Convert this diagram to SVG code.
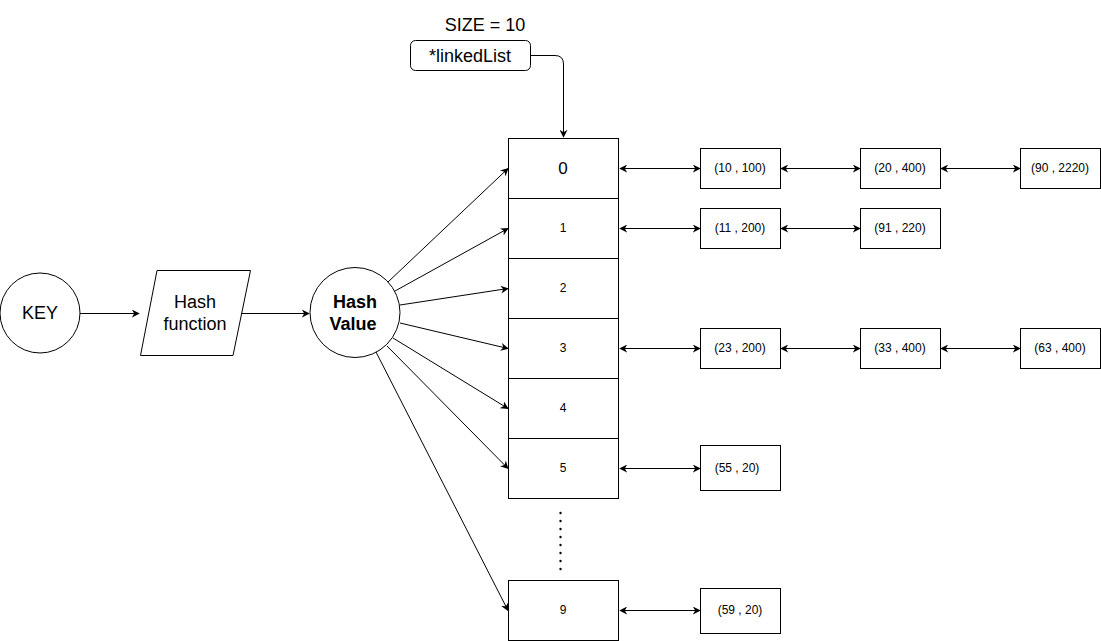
<svg xmlns="http://www.w3.org/2000/svg" width="1101" height="641" viewBox="0 0 1101 641">
<style>
.s{fill:#fff;stroke:#000;stroke-width:1}
.t{font-family:"Liberation Sans",Arial,sans-serif;fill:#000;text-anchor:middle;dominant-baseline:central}
.c{fill:none;stroke:#000;stroke-width:1}
</style>
<defs>
<marker id="a" viewBox="0 0 10 10" refX="9" refY="5" markerWidth="8" markerHeight="8" markerUnits="userSpaceOnUse" orient="auto-start-reverse">
<path d="M0,0 L10,5 L0,10 L3,5 Z" fill="#000"/>
</marker>
</defs>
<rect width="1101" height="641" fill="#fff"/>
<g id="size"><text class="t" x="485" y="25" font-size="18">SIZE = 10</text></g>
<g id="linkedList"><rect class="s" x="410.5" y="40.5" width="120" height="30" rx="5"/><text class="t" x="470" y="56" font-size="18">*linkedList</text></g>
<g id="key"><circle class="s" cx="40" cy="313" r="40"/><text class="t" x="40" y="313" font-size="18">KEY</text></g>
<g id="hashFunction"><polygon class="s" points="157,270.5 250.5,270.5 233,355.5 140.5,355.5"/><text class="t" x="195" y="302" font-size="18">Hash</text><text class="t" x="195" y="324" font-size="18">function</text></g>
<g id="hashValue"><circle class="s" cx="355" cy="312.5" r="45"/><text class="t" x="355" y="302" font-size="18" font-weight="bold">Hash</text><text class="t" x="353" y="324" font-size="18" font-weight="bold">Value</text></g>
<g id="cell0"><rect class="s" x="508.5" y="138.5" width="110" height="60"/><text class="t" x="563" y="168" font-size="17">0</text></g>
<g id="cell1"><rect class="s" x="508.5" y="198.5" width="110" height="60"/><text class="t" x="563" y="228" font-size="12">1</text></g>
<g id="cell2"><rect class="s" x="508.5" y="258.5" width="110" height="60"/><text class="t" x="563" y="288" font-size="12">2</text></g>
<g id="cell3"><rect class="s" x="508.5" y="318.5" width="110" height="60"/><text class="t" x="563" y="348" font-size="12">3</text></g>
<g id="cell4"><rect class="s" x="508.5" y="378.5" width="110" height="60"/><text class="t" x="563" y="408" font-size="12">4</text></g>
<g id="cell5"><rect class="s" x="508.5" y="438.5" width="110" height="60"/><text class="t" x="563" y="468" font-size="12">5</text></g>
<g id="dots" fill="#000"><circle cx="560.5" cy="513" r="1.2"/><circle cx="560.5" cy="521" r="1.2"/><circle cx="560.5" cy="529" r="1.2"/><circle cx="560.5" cy="537" r="1.2"/><circle cx="560.5" cy="545" r="1.2"/><circle cx="560.5" cy="553" r="1.2"/><circle cx="560.5" cy="561" r="1.2"/><circle cx="560.5" cy="569" r="1.2"/></g>
<g id="cell9"><rect class="s" x="508.5" y="580.5" width="110" height="60"/><text class="t" x="563" y="610" font-size="12">9</text></g>
<g id="n10_100"><rect class="s" x="700.5" y="148.5" width="80" height="40"/><text class="t" x="740" y="168" font-size="12">(10 , 100)</text></g>
<g id="n20_400"><rect class="s" x="860.5" y="148.5" width="80" height="40"/><text class="t" x="900" y="168" font-size="12">(20 , 400)</text></g>
<g id="n90_2220"><rect class="s" x="1020.5" y="148.5" width="80" height="40"/><text class="t" x="1060" y="168" font-size="12">(90 , 2220)</text></g>
<g id="n11_200"><rect class="s" x="700.5" y="208.5" width="80" height="40"/><text class="t" x="740" y="228" font-size="12">(11 , 200)</text></g>
<g id="n91_220"><rect class="s" x="860.5" y="208.5" width="80" height="40"/><text class="t" x="900" y="228" font-size="12">(91 , 220)</text></g>
<g id="n23_200"><rect class="s" x="700.5" y="328.5" width="80" height="40"/><text class="t" x="740" y="348" font-size="12">(23 , 200)</text></g>
<g id="n33_400"><rect class="s" x="860.5" y="328.5" width="80" height="40"/><text class="t" x="900" y="348" font-size="12">(33 , 400)</text></g>
<g id="n63_400"><rect class="s" x="1020.5" y="328.5" width="80" height="40"/><text class="t" x="1060" y="348" font-size="12">(63 , 400)</text></g>
<g id="n55_20"><rect class="s" x="700.5" y="445.5" width="80" height="45"/><text class="t" x="737" y="468" font-size="12">(55 , 20)</text></g>
<g id="n59_20"><rect class="s" x="700.5" y="588.5" width="80" height="45"/><text class="t" x="740" y="610" font-size="12">(59 , 20)</text></g>
<g id="connectors" class="c">
<path class="c" d="M530.5,55.5 H555 Q563.5,55.5 563.5,64 V137" marker-end="url(#a)"/>
<path class="c" d="M80,313.5 H139" marker-end="url(#a)"/>
<path class="c" d="M241,313.5 H309" marker-end="url(#a)"/>
<path class="c" d="M388,282 L508,168.5" marker-end="url(#a)"/>
<path class="c" d="M395,291 L508,228.5" marker-end="url(#a)"/>
<path class="c" d="M400,305 L508,288.5" marker-end="url(#a)"/>
<path class="c" d="M400,323 L508,348.5" marker-end="url(#a)"/>
<path class="c" d="M393,338 L508,408.5" marker-end="url(#a)"/>
<path class="c" d="M387,346 L508,468.5" marker-end="url(#a)"/>
<path class="c" d="M376,352 L508,610.5" marker-end="url(#a)"/>
<path class="c" d="M620,168.5 H700" marker-start="url(#a)" marker-end="url(#a)"/>
<path class="c" d="M781,168.5 H860" marker-start="url(#a)" marker-end="url(#a)"/>
<path class="c" d="M941,168.5 H1020" marker-start="url(#a)" marker-end="url(#a)"/>
<path class="c" d="M620,228.5 H700" marker-start="url(#a)" marker-end="url(#a)"/>
<path class="c" d="M781,228.5 H860" marker-start="url(#a)" marker-end="url(#a)"/>
<path class="c" d="M620,348.5 H700" marker-start="url(#a)" marker-end="url(#a)"/>
<path class="c" d="M781,348.5 H860" marker-start="url(#a)" marker-end="url(#a)"/>
<path class="c" d="M941,348.5 H1020" marker-start="url(#a)" marker-end="url(#a)"/>
<path class="c" d="M620,468.5 H700" marker-start="url(#a)" marker-end="url(#a)"/>
<path class="c" d="M620,610.5 H700" marker-start="url(#a)" marker-end="url(#a)"/>
</g>
</svg>
